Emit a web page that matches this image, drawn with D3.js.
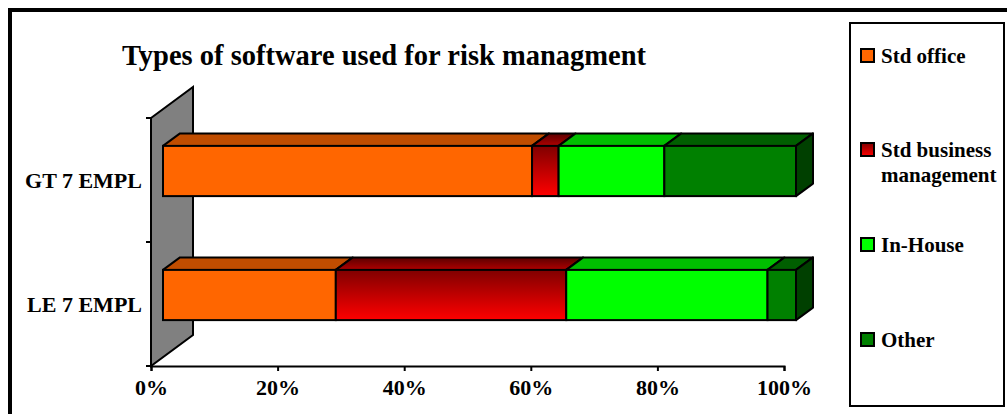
<!DOCTYPE html>
<html>
<head>
<meta charset="utf-8">
<script src="https://cdn.jsdelivr.net/npm/d3@7"></script>
<style>
  html, body { margin: 0; padding: 0; background: #fff; }
  svg { display: block; }
  text { font-family: "Liberation Serif", "Times New Roman", serif; font-weight: bold; fill: #000; }
</style>
</head>
<body>
<svg id="chart" width="1007" height="414"></svg>
<script>
// Share of each software type, in percent, per company size
const categories = ["GT 7 EMPL", "LE 7 EMPL"];
const seriesKeys = ["Std office", "Std business management", "In-House", "Other"];
const stdOffice   = [58.3, 27.3];
const stdBusiness = [4.2, 36.4];
const inHouse     = [16.7, 31.8];
const other       = [20.8, 4.5];
const xTicks = [0, 20, 40, 60, 80, 100];
const legendLines = [["Std office"], ["Std business", "management"], ["In-House"], ["Other"]];
const title = "Types of software used for risk managment";

const table = categories.map((c, i) => ({
  category: c,
  "Std office": stdOffice[i],
  "Std business management": stdBusiness[i],
  "In-House": inHouse[i],
  "Other": other[i]
}));

const svg = d3.select("#chart");

// Fill colours: front face, top face, side face
const faces = {
  "Std office":              { front: "#FF6600", top: "#C04D00", side: "#803300" },
  "Std business management": { front: "url(#redFront)", top: "url(#redTop)", side: "#600000" },
  "In-House":                { front: "#00FF00", top: "#00BF00", side: "#008000" },
  "Other":                   { front: "#008000", top: "#005F00", side: "#004000" }
};

const defs = svg.append("defs");
function vGrad(id, c0, c1) {
  const g = defs.append("linearGradient").attr("id", id)
    .attr("x1", 0).attr("y1", 0).attr("x2", 0).attr("y2", 1);
  g.append("stop").attr("offset", "0%").attr("stop-color", c0);
  g.append("stop").attr("offset", "100%").attr("stop-color", c1);
}
vGrad("redFront", "#800000", "#FF0000");
vGrad("redTop", "#5A0000", "#B00000");

// Outer frame
svg.append("rect")
  .attr("x", 10).attr("y", 10).attr("width", 1010).attr("height", 420)
  .attr("fill", "none").attr("stroke", "#000").attr("stroke-width", 4);

// Plot geometry (front plane of the back wall)
const plotLeft = 151, plotRight = 784, plotTop = 118, plotBottom = 366;
const wallDepth = [42, -31];    // oblique offset of the wall's back edge
const barShift = [12, -9];      // front face of bars relative to wall front
const barDepth = [17, -12.5];   // depth of each bar box

const x = d3.scaleLinear().domain([0, 100]).range([plotLeft, plotRight]);
const y = d3.scaleBand().domain(categories).range([plotTop, plotBottom])
  .paddingInner(0.595).paddingOuter(0.2975);

// Side wall
const wall = [
  [plotLeft, plotTop],
  [plotLeft + wallDepth[0], plotTop + wallDepth[1]],
  [plotLeft + wallDepth[0], plotBottom + wallDepth[1]],
  [plotLeft, plotBottom]
];
svg.append("path")
  .attr("d", d3.line()(wall) + "Z")
  .attr("fill", "#808080").attr("stroke", "#000").attr("stroke-width", 2)
  .attr("stroke-linejoin", "miter");

// Category axis ticks on the wall's front edge
const catTicks = [plotTop, ...categories.slice(1).map(c => y(c) - y.step() * y.paddingInner() / 2), plotBottom];
svg.append("g").selectAll("line").data(catTicks).join("line")
  .attr("x1", plotLeft - 5).attr("x2", plotLeft)
  .attr("y1", d => d).attr("y2", d => d)
  .attr("stroke", "#000").attr("stroke-width", 2);

// Value axis
const xAxis = svg.append("g")
  .attr("transform", `translate(0,${plotBottom})`)
  .call(d3.axisBottom(x).tickValues(xTicks).tickFormat(d => d + "%").tickSize(5).tickPadding(8));
xAxis.select(".domain").attr("stroke", "#000").attr("stroke-width", 2);
xAxis.selectAll(".tick line").attr("stroke", "#000").attr("stroke-width", 2);
xAxis.selectAll(".tick text")
  .attr("font-family", "Liberation Serif, Times New Roman, serif")
  .attr("font-weight", "bold").attr("font-size", 22).attr("fill", "#000");

// Category labels
svg.append("g").selectAll("text").data(categories).join("text")
  .attr("x", 142)
  .attr("y", d => y(d) + y.bandwidth() / 2 + 8)
  .attr("text-anchor", "end")
  .attr("font-size", 22)
  .text(d => d);

// Stacked 3D bars
const stacked = d3.stack().keys(seriesKeys)(table);
const lastKey = seriesKeys[seriesKeys.length - 1];
const barsG = svg.append("g");
stacked.forEach(layer => {
  const key = layer.key;
  layer.forEach(seg => {
    const cat = seg.data.category;
    const x0 = x(seg[0]) + barShift[0], x1 = x(seg[1]) + barShift[0];
    const yt = y(cat) + barShift[1], yb = yt + y.bandwidth();
    const g = barsG.append("g");
    // top face
    g.append("path")
      .attr("d", d3.line()([[x0, yt], [x0 + barDepth[0], yt + barDepth[1]],
                            [x1 + barDepth[0], yt + barDepth[1]], [x1, yt]]) + "Z")
      .attr("fill", faces[key].top).attr("stroke", "#000").attr("stroke-width", 2)
      .attr("stroke-linejoin", "round");
    // side face on the outer end of the stack
    if (key === lastKey) {
      g.append("path")
        .attr("d", d3.line()([[x1, yt], [x1 + barDepth[0], yt + barDepth[1]],
                              [x1 + barDepth[0], yb + barDepth[1]], [x1, yb]]) + "Z")
        .attr("fill", faces[key].side).attr("stroke", "#000").attr("stroke-width", 2)
        .attr("stroke-linejoin", "round");
    }
    // front face
    g.append("rect")
      .attr("x", x0).attr("y", yt).attr("width", x1 - x0).attr("height", yb - yt)
      .attr("fill", faces[key].front).attr("stroke", "#000").attr("stroke-width", 2);
  });
});

// Title
svg.append("text")
  .attr("x", 384).attr("y", 65)
  .attr("text-anchor", "middle")
  .attr("font-size", 28.5)
  .text(title);

// Legend
svg.append("rect")
  .attr("x", 850).attr("y", 23).attr("width", 154).attr("height", 383)
  .attr("fill", "#fff").attr("stroke", "#000").attr("stroke-width", 2);
const legendY = [49, 143, 238, 333];
const legend = svg.append("g").selectAll("g").data(seriesKeys).join("g")
  .attr("transform", (d, i) => `translate(861,${legendY[i]})`);
legend.append("rect")
  .attr("width", 13).attr("height", 13)
  .attr("fill", d => faces[d].front).attr("stroke", "#000").attr("stroke-width", 2);
legend.append("text")
  .attr("x", 20).attr("y", 14)
  .attr("font-size", 21)
  .selectAll("tspan").data((d, i) => legendLines[i]).join("tspan")
  .attr("x", 20).attr("dy", (d, j) => j === 0 ? 0 : 25)
  .text(d => d);
</script>
</body>
</html>
